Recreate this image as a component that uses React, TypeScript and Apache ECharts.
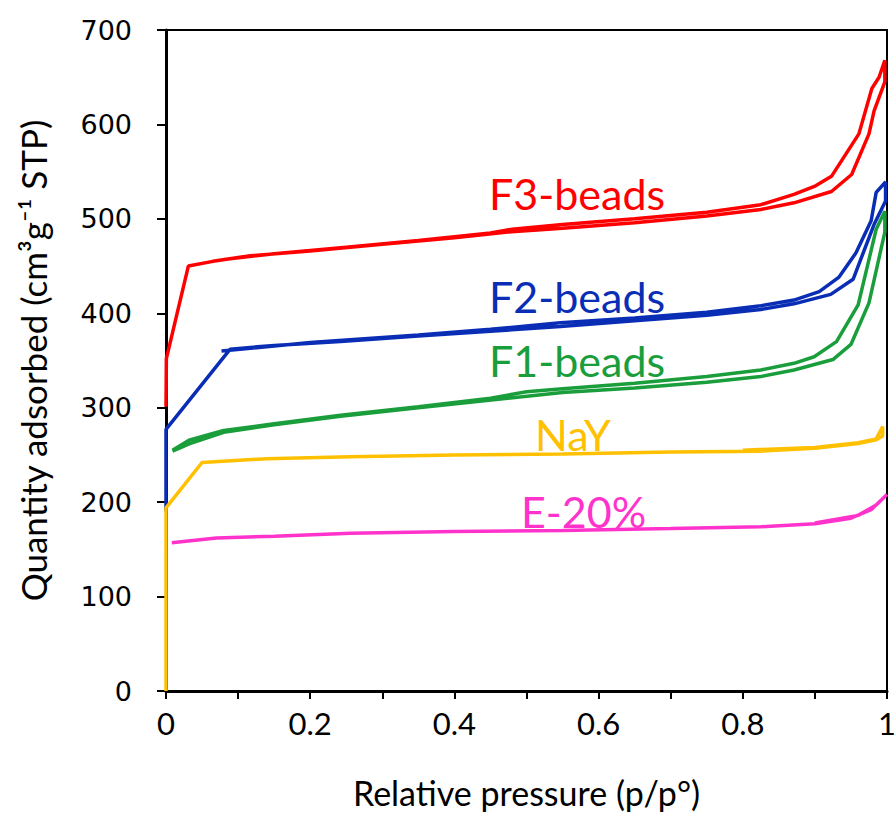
import React, { useEffect, useRef } from "react";
import * as echarts from "echarts";

// Relative pressure (p/p°) and quantity adsorbed — adsorption branch then desorption branch
const f3Beads: [number, number][] = [
  [0, 301], [0.0005, 352], [0.031, 450], [0.065, 455], [0.117, 461], [0.2, 466], [0.3, 473],
  [0.4, 480], [0.474, 486], [0.55, 490], [0.65, 496], [0.75, 503], [0.825, 510], [0.871, 517],
  [0.923, 529], [0.951, 547], [0.975, 590], [0.982, 614], [0.997, 645], [0.997, 668],
  [0.989, 650], [0.979, 638], [0.961, 590], [0.923, 545], [0.901, 535], [0.871, 526],
  [0.825, 515], [0.75, 507], [0.65, 500], [0.55, 494], [0.48, 489], [0.45, 485], [0.35, 477],
  [0.25, 470], [0.15, 463], [0.08, 457],
];

const f2Beads: [number, number][] = [
  [0, 190], [0, 277], [0.089, 362], [0.15, 366], [0.242, 370], [0.35, 376], [0.45, 381],
  [0.547, 386], [0.65, 392], [0.75, 398], [0.825, 404], [0.871, 410], [0.922, 420],
  [0.953, 436], [0.982, 494], [0.998, 519], [0.998, 539],
  [0.985, 528], [0.978, 498], [0.957, 464], [0.933, 438], [0.906, 423], [0.871, 414],
  [0.825, 408], [0.75, 401], [0.65, 395], [0.547, 390], [0.45, 383], [0.35, 377],
  [0.2, 369], [0.077, 360],
];

const f1Beads: [number, number][] = [
  [0.009, 254], [0.033, 262], [0.08, 274], [0.15, 282], [0.242, 291], [0.35, 300],
  [0.474, 310], [0.55, 316], [0.65, 321], [0.75, 327], [0.825, 333], [0.871, 340],
  [0.925, 351], [0.95, 367], [0.975, 411], [0.997, 486], [0.997, 508],
  [0.985, 489], [0.96, 409], [0.93, 370], [0.899, 354], [0.871, 347], [0.825, 340],
  [0.75, 333], [0.65, 326], [0.55, 320], [0.5, 317], [0.45, 310], [0.35, 301],
  [0.242, 292], [0.15, 283], [0.08, 276], [0.033, 266], [0.009, 255],
];

const nay: [number, number][] = [
  [0, 0], [0, 194], [0.05, 242], [0.14, 246], [0.256, 248], [0.4, 250], [0.55, 251],
  [0.7, 253], [0.825, 254], [0.9, 257], [0.96, 262], [0.985, 266], [0.994, 270], [0.994, 280],
  [0.985, 267], [0.96, 263], [0.9, 258], [0.8, 255],
];

const e20: [number, number][] = [
  [0.008, 157], [0.07, 162], [0.15, 164], [0.256, 167], [0.4, 169], [0.55, 170],
  [0.7, 172], [0.825, 174], [0.9, 177], [0.95, 183], [0.978, 192], [1.0, 208],
  [0.985, 197], [0.96, 186], [0.9, 178],
];

const seriesNames = ["F3-beads", "F2-beads", "F1-beads", "NaY", "E-20%"];
const seriesColors = ["#FF0000", "#0A2DB5", "#1A9E3C", "#FFC000", "#FF33CC"];
const seriesData = [f3Beads, f2Beads, f1Beads, nay, e20];

const xTicks = [0, 0.1, 0.2, 0.3, 0.4, 0.5, 0.6, 0.7, 0.8, 0.9, 1];
const yTicks = [0, 100, 200, 300, 400, 500, 600, 700];

// label placements (px)
const labelPos = [
  { x: 489, y: 193 },
  { x: 489, y: 296 },
  { x: 489, y: 360 },
  { x: 535, y: 434 },
  { x: 521, y: 511 },
];

export default function App() {
  const ref = useRef<HTMLDivElement>(null);
  useEffect(() => {
    if (!ref.current) return;
    const chart = echarts.init(ref.current, null, { renderer: "svg" });
    chart.setOption({
      animation: false,
      backgroundColor: "#ffffff",
      grid: {
        left: 166,
        right: 9,
        top: 30,
        bottom: 123,
        show: true,
        borderColor: "#000",
        borderWidth: 2,
        containLabel: false,
        outerBoundsMode: "none",
      },
      xAxis: {
        type: "value",
        min: xTicks[0],
        max: xTicks[xTicks.length - 1],
        interval: 0.1,
        name: "Relative pressure (p/p°)",
        nameLocation: "middle",
        nameGap: 83,
        nameTextStyle: { fontFamily: "Lato", fontSize: 34, color: "#000", lineHeight: 36 },
        axisLine: { onZero: false, lineStyle: { color: "#000", width: 3 } },
        axisTick: { show: true, inside: false, length: 8, lineStyle: { color: "#000", width: 2 } },
        splitLine: { show: false },
        axisLabel: {
          margin: 16,
          fontFamily: "Lato",
          fontSize: 31,
          color: "#000",
          formatter: (v: number) => {
            const t = Math.round(v * 10);
            if (t % 2 !== 0) return "";
            if (t === 0) return "0";
            if (t === 10) return "1";
            return (t / 10).toFixed(1);
          },
        },
      },
      yAxis: {
        type: "value",
        min: yTicks[0],
        max: yTicks[yTicks.length - 1],
        interval: 100,
        name: "Quantity adsorbed (cm³g⁻¹ STP)",
        nameLocation: "middle",
        nameGap: 116,
        nameTextStyle: { fontFamily: "Lato", fontSize: 35, color: "#000" },
        axisLine: { show: true, onZero: false, lineStyle: { color: "#000", width: 3 } },
        axisTick: { show: true, inside: false, length: 9, lineStyle: { color: "#000", width: 2 } },
        splitLine: { show: false },
        axisLabel: {
          margin: 34,
          fontFamily: "DejaVu Sans",
          fontSize: 27,
          color: "#000",
        },
      },
      series: seriesData.map((d, i) => ({
        name: seriesNames[i],
        type: "line",
        data: d,
        showSymbol: false,
        symbol: "none",
        smooth: false,
        lineStyle: { color: seriesColors[i], width: 3.5 },
        itemStyle: { color: seriesColors[i] },
        z: 2 + i,
      })),
      graphic: seriesNames.map((n, i) => ({
        type: "text",
        x: labelPos[i].x,
        y: labelPos[i].y,
        style: {
          text: n,
          fill: seriesColors[i],
          font: "43px Lato",
          verticalAlign: "middle",
        },
        z: 100,
      })),
    });
    return () => chart.dispose();
  }, []);
  return (
    <div
      ref={ref}
      style={{ position: "fixed", left: 0, top: 0, width: 896, height: 814 }}
    />
  );
}
